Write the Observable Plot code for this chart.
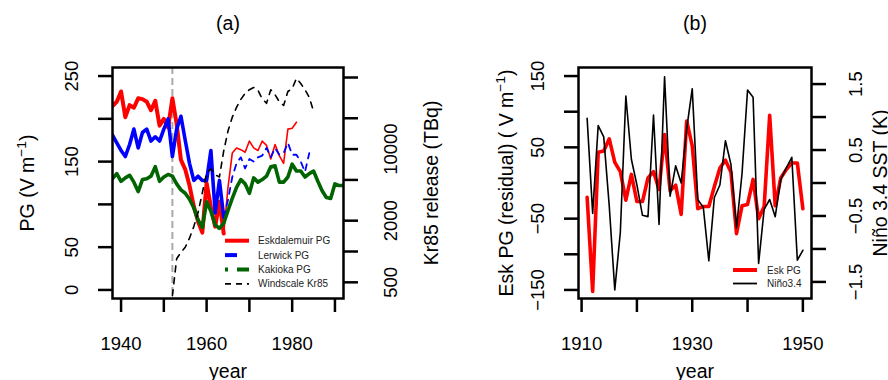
<!DOCTYPE html>
<html><head><meta charset="utf-8">
<script src="https://cdn.jsdelivr.net/npm/d3@7"></script>
<script src="https://cdn.jsdelivr.net/npm/@observablehq/plot@0.6"></script>
<style>
body{margin:0;background:#fff;}
#wrap{position:relative;width:888px;height:380px;display:flex;overflow:hidden;}
#leg{position:absolute;left:0;top:0;pointer-events:none;}
</style></head><body><div id="wrap"></div>
<script>
// ---------- Panel (a) data ----------
const eskYearsEarly = [1938,1939,1940,1941,1942,1943,1944,1945,1946,1947,1948,1949,1950,1951,1952,1953,1954,1955,1956,1957,1958,1959,1960,1961,1962,1963,1964];
const eskEarly      = [215,220,232,202,216,213,224,223,220,210,221,192,200,190,224,194,152,141,122,98,80,67,125,97,74,103,66];
const eskYearsLate  = [1964,1965,1966,1967,1968,1969,1970,1971,1972,1973,1974,1975,1976,1977,1978,1979,1980,1981];
const eskLate       = [66,120,160,166,164,161,174,166,163,174,169,153,170,157,148,188,189,196];

const lerYearsEarly = [1938,1939,1940,1941,1942,1943,1944,1945,1946,1947,1948,1949,1950,1951,1952,1953,1954,1955,1956,1957,1958,1959,1960,1961,1962,1963,1964];
const lerEarly      = [181,172,163,156,170,188,166,184,188,174,179,174,188,200,156,188,203,175,148,128,133,128,128,163,90,128,85];
const lerYearsLate  = [1964,1965,1966,1967,1968,1969,1970,1971,1972,1973,1974,1975,1976,1977,1978,1979,1980,1981,1982,1983,1984];
const lerLate       = [85,105,132,148,155,142,153,150,155,157,166,155,166,158,160,172,158,158,150,138,160];

const kakYears = [1938,1939,1940,1941,1942,1943,1944,1945,1946,1947,1948,1949,1950,1951,1952,1953,1954,1955,1956,1957,1958,1959,1960,1961,1962,1963,1964,1965,1966,1967,1968,1969,1970,1971,1972,1973,1974,1975,1976,1977,1978,1979,1980,1981,1982,1983,1984,1985,1986,1987,1988,1989,1990,1991,1992];
const kakPG    = [130,136,127,131,134,126,115,129,130,133,144,127,132,135,133,124,117,113,106,96,82,73,103,92,76,72,78,93,107,120,129,124,113,131,126,129,133,144,145,126,126,132,147,139,139,132,136,139,127,116,108,107,124,122,122];

const krYears = [1952,1953,1954,1955,1956,1957,1958,1959,1960,1961,1962,1963,1964,1965,1966,1967,1968,1969,1970,1971,1972,1973,1974,1975,1976,1977,1978,1979,1980,1981,1982,1983,1984,1985];
const krTBq   = [370,850,980,1100,1350,1750,2400,3750,5850,6400,5600,5350,9600,15000,20500,25600,30600,35000,38000,40000,37500,31000,28000,38000,34000,29000,26700,36500,39000,49000,43700,38000,32000,23400];

const windscaleFire = [1952];
const pgTicks = [0,50,100,150,200,250];
const pgLabels = [0,50,150,250];
const krTicks = [500,1000,2000,5000,10000,20000,50000];
const krLabels = [500,2000,10000];
const yearTicksA = [1940,1950,1960,1970,1980,1990];
const yearLabelsA = [1940,1960,1980];

// ---------- Panel (b) data ----------
const yearsB = [1911,1912,1913,1914,1915,1916,1917,1918,1919,1920,1921,1922,1923,1924,1925,1926,1927,1928,1929,1930,1931,1932,1933,1934,1935,1936,1937,1938,1939,1940,1941,1942,1943,1944,1945,1946,1947,1948,1949,1950];
const eskResid = [-20,-152,43,45,62,29,16,-24,12,-26,-26,7,16,-9,68,-11,-3,-44,87,52,-36,-33,-33,-5,21,32,15,-71,-32,-30,5,-50,-33,95,-32,7,19,28,28,-36];
const nino34   = [0.98,-0.46,0.87,0.70,-0.35,-1.62,-0.75,1.32,0.36,-0.03,-0.49,-0.51,1.03,-0.63,1.61,-0.2,0.26,0.0,0.82,1.43,-0.25,-0.37,-1.18,-0.22,-0.03,0.64,0.28,-0.68,0.14,1.41,1.30,-1.22,-0.40,-0.25,-0.51,0.05,0.23,0.39,-1.17,-1.02];
const resTicks = [-150,-100,-50,0,50,100,150];
const resLabels = [150,50,-50,-150];
const sstTicks = [-1.5,-1,-0.5,0,0.5,1,1.5];
const sstLabels = [1.5,0.5,-0.5,-1.5];
const yearTicksB = [1910,1920,1930,1940,1950];
const yearLabelsB = [1910,1930,1950];

// legends
const legA = [
  {name:"Eskdalemuir PG", color:"#ff0000", width:4, dash:null},
  {name:"Lerwick PG", color:"#0000ff", width:4, dash:"12,12"},
  {name:"Kakioka PG", color:"#006400", width:4, dash:"3,9,12,9"},
  {name:"Windscale Kr85", color:"#000000", width:1.6, dash:"6,5"}
];
const legB = [
  {name:"Esk PG", color:"#ff0000", width:4, dash:null},
  {name:"Niño3.4", color:"#000000", width:1.8, dash:null}
];

// ---------- helpers ----------
const FONT = "'Liberation Sans', Arial, Helvetica, sans-serif";
const TS = 18.5, LS = 19.5;
// secondary-axis mappings onto the primary scales
const krToPG = v => 8.9 + 119.7 * Math.log10(v / 500);
const sstToRes = v => v * 92.5;
const fmt = d => String(d).replace("-", "\u2212");
const rows = (xs, ys) => xs.map((x, i) => ({x, y: ys[i]}));
const T = {textAnchor: "middle", lineAnchor: "middle"};

function fixSup(svg, size) {
  const ns = "http://www.w3.org/2000/svg";
  for (const t of svg.querySelectorAll("text")) {
    const s = t.textContent; const k = s.indexOf("^-1");
    if (k < 0) continue;
    while (t.firstChild) t.removeChild(t.firstChild);
    t.appendChild(document.createTextNode(s.slice(0, k)));
    const sup = document.createElementNS(ns, "tspan");
    sup.setAttribute("font-size", size * 0.7); sup.setAttribute("dy", -size * 0.42);
    sup.textContent = "\u22121"; t.appendChild(sup);
    const rest = document.createElementNS(ns, "tspan");
    rest.setAttribute("dy", size * 0.42); rest.textContent = s.slice(k + 3); t.appendChild(rest);
  }
}

const A = Plot.plot({
  width: 444, height: 380,
  marginLeft: 112, marginRight: 101, marginTop: 67, marginBottom: 82,
  x: {domain: [1938, 1992]},
  y: {domain: [-10, 260]},
  style: {fontFamily: FONT, background: "white", overflow: "visible", color: "black"},
  marks: [
    Plot.ruleX(windscaleFire, {x: d => d, stroke: "#a9a9a9", strokeWidth: 2, strokeDasharray: "7,4"}),
    Plot.line(rows(eskYearsEarly, eskEarly), {x: "x", y: "y", stroke: "#ff0000", strokeWidth: 4, clip: true}),
    Plot.line(rows(eskYearsLate, eskLate), {x: "x", y: "y", stroke: "#ff0000", strokeWidth: 1.6, clip: true}),
    Plot.line(rows(lerYearsEarly, lerEarly), {x: "x", y: "y", stroke: "#0000ff", strokeWidth: 3.6, clip: true}),
    Plot.line(rows(lerYearsLate, lerLate), {x: "x", y: "y", stroke: "#0000ff", strokeWidth: 1.8, strokeDasharray: "6,6", clip: true}),
    Plot.line(rows(kakYears, kakPG), {x: "x", y: "y", stroke: "#006400", strokeWidth: 3.6, clip: true}),
    Plot.line(rows(krYears, krTBq), {x: "x", y: d => krToPG(d.y), stroke: "black", strokeWidth: 1.6, strokeDasharray: "6,6", clip: true}),
    Plot.frame({stroke: "black", strokeWidth: 2.5}),
    Plot.axisY({anchor: "left", ticks: pgTicks, tickSize: 14, strokeWidth: 2.5, tickFormat: () => "", label: null}),
    Plot.axisY({anchor: "right", ticks: krTicks.map(krToPG), tickSize: 14, strokeWidth: 2.5, tickFormat: () => "", label: null}),
    Plot.axisX({anchor: "bottom", ticks: yearTicksA, tickSize: 14, strokeWidth: 2.5, tickFormat: () => "", label: null}),
    Plot.text(pgLabels, {...T, y: d => d, text: fmt, frameAnchor: "left", dx: -40, rotate: -90, fontSize: TS}),
    Plot.text(krLabels, {...T, y: d => krToPG(d), text: fmt, frameAnchor: "right", dx: 48, rotate: -90, fontSize: TS}),
    Plot.text(yearLabelsA, {...T, x: d => d, text: fmt, frameAnchor: "bottom", dy: 46, fontSize: TS}),
    Plot.text(["year"], {...T, text: d => d, frameAnchor: "bottom", dy: 73, fontSize: LS}),
    Plot.text(["PG (V m^-1)"], {...T, text: d => d, frameAnchor: "left", dx: -85, rotate: -90, fontSize: LS}),
    Plot.text(["Kr85 release (TBq)"], {...T, text: d => d, frameAnchor: "right", dx: 88, rotate: -90, fontSize: LS}),
    Plot.text(["(a)"], {...T, text: d => d, frameAnchor: "top", dy: -44, fontSize: LS})
  ]
});

const B = Plot.plot({
  width: 444, height: 380,
  marginLeft: 134, marginRight: 77, marginTop: 67, marginBottom: 82,
  x: {domain: [1909.44, 1951.56]},
  y: {domain: [-162, 162]},
  style: {fontFamily: FONT, background: "white", overflow: "visible", color: "black"},
  marks: [
    Plot.line(rows(yearsB, eskResid), {x: "x", y: "y", stroke: "#ff0000", strokeWidth: 3.6, clip: true}),
    Plot.line(rows(yearsB, nino34), {x: "x", y: d => sstToRes(d.y), stroke: "black", strokeWidth: 1.6, clip: true}),
    Plot.frame({stroke: "black", strokeWidth: 2.5}),
    Plot.axisY({anchor: "left", ticks: resTicks, tickSize: 14, strokeWidth: 2.5, tickFormat: () => "", label: null}),
    Plot.axisY({anchor: "right", ticks: sstTicks.map(sstToRes), tickSize: 14, strokeWidth: 2.5, tickFormat: () => "", label: null}),
    Plot.axisX({anchor: "bottom", ticks: yearTicksB, tickSize: 14, strokeWidth: 2.5, tickFormat: () => "", label: null}),
    Plot.text(resLabels, {...T, y: d => d, text: fmt, frameAnchor: "left", dx: -40, rotate: -90, fontSize: TS}),
    Plot.text(sstLabels, {...T, y: d => sstToRes(d), text: fmt, frameAnchor: "right", dx: 45, rotate: -90, fontSize: TS}),
    Plot.text(yearLabelsB, {...T, x: d => d, text: fmt, frameAnchor: "bottom", dy: 46, fontSize: TS}),
    Plot.text(["year"], {...T, text: d => d, frameAnchor: "bottom", dy: 73, fontSize: LS}),
    Plot.text(["Esk PG (residual) ( V m^-1)"], {...T, text: d => d, frameAnchor: "left", dx: -72, rotate: -90, fontSize: LS}),
    Plot.text(["Niño 3.4 SST (K)"], {...T, text: d => d, frameAnchor: "right", dx: 69, rotate: -90, fontSize: LS}),
    Plot.text(["(b)"], {...T, text: d => d, frameAnchor: "top", dy: -44, fontSize: LS})
  ]
});

fixSup(A, LS); fixSup(B, LS);
const wrap = document.getElementById("wrap");
wrap.appendChild(A); wrap.appendChild(B);

// legends overlay
const leg = d3.select(wrap).append("svg").attr("id", "leg").attr("width", 888).attr("height", 380)
  .style("font-family", FONT).style("font-size", "10px");
function drawLegend(items, x0, x1, xt, y0, step) {
  items.forEach((it, i) => {
    const y = y0 + i * step;
    leg.append("line").attr("x1", x0).attr("x2", x1).attr("y1", y).attr("y2", y)
      .attr("stroke", it.color).attr("stroke-width", it.width)
      .attr("stroke-dasharray", it.dash);
    leg.append("text").attr("x", xt).attr("y", y).attr("dy", "0.35em").attr("fill", "#222").text(it.name);
  });
}
drawLegend(legA, 225, 249, 258, 240.7, 14.4);
drawLegend(legB, 733, 757, 767, 270, 13.5);
</script></body></html>
